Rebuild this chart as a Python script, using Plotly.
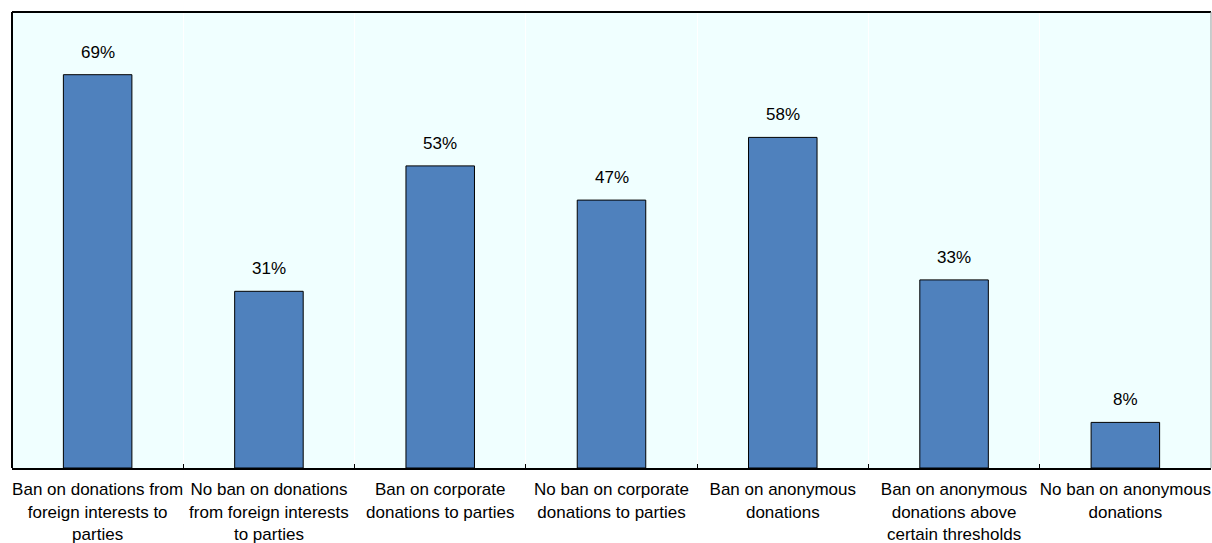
import plotly.graph_objects as go

categories = [
    "Ban on donations from<br>foreign interests to<br>parties",
    "No ban on donations<br>from foreign interests<br>to parties",
    "Ban on corporate<br>donations to parties",
    "No ban on corporate<br>donations to parties",
    "Ban on anonymous<br>donations",
    "Ban on anonymous<br>donations above<br>certain thresholds",
    "No ban on anonymous<br>donations",
]
values = [69, 31, 53, 47, 58, 33, 8]
labels = ["69%", "31%", "53%", "47%", "58%", "33%", "8%"]

FONT = "Liberation Sans, Arial, sans-serif"

fig = go.Figure()
fig.add_trace(go.Bar(
    x=categories, y=values,
    marker=dict(color="#4F81BD", line=dict(color="#000000", width=1)),
    width=0.4,
    hoverinfo="skip",
))

for c, v, t in zip(categories, values, labels):
    fig.add_annotation(x=c, y=v, text=t, showarrow=False, yanchor="bottom",
                       yshift=11, font=dict(family=FONT, size=17, color="#000000"))

fig.update_layout(
    width=1212, height=543,
    margin=dict(l=12, r=1, t=12, b=75),
    paper_bgcolor="#FFFFFF",
    plot_bgcolor="#F0FFFF",
    showlegend=False,
    font=dict(family=FONT, size=17, color="#000000"),
    xaxis=dict(
        tickson="boundaries", ticks="inside", ticklen=4, tickcolor="#000000",
        showgrid=True, gridcolor="#FFFFFF", gridwidth=1,
        showline=True, linecolor="#000000", linewidth=2,
        tickfont=dict(family=FONT, size=17, color="#000000"),
        tickangle=0, automargin=False,
        ticklabelstandoff=5,
        fixedrange=True,
    ),
    yaxis=dict(
        range=[0, 80], showticklabels=False, showgrid=False, zeroline=False,
        showline=False, ticks="", automargin=False,
        fixedrange=True,
    ),
    shapes=[
        dict(type="line", xref="paper", yref="paper", x0=0, x1=1, y0=1, y1=1,
             line=dict(color="#000000", width=2)),
        dict(type="line", xref="paper", yref="paper", x0=0, x1=0, y0=0, y1=1,
             line=dict(color="#000000", width=2)),
        dict(type="line", xref="paper", yref="paper", x0=1, x1=1, y0=0, y1=1,
             line=dict(color="#999999", width=1)),
    ],
)

fig.write_html("out.html")
